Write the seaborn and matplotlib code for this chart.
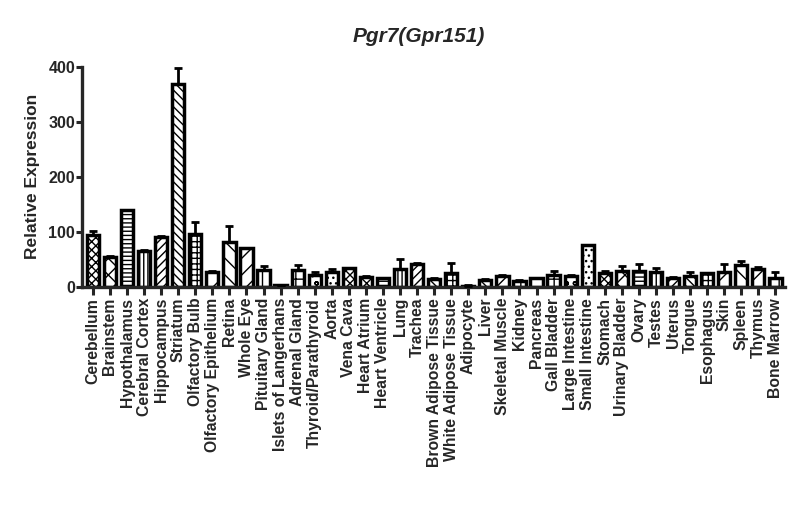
import numpy as np
import seaborn as sns
import matplotlib.pyplot as plt

tissues = ["Cerebellum", "Brainstem", "Hypothalamus", "Cerebral Cortex", "Hippocampus",
           "Striatum", "Olfactory Bulb", "Olfactory Epithelium", "Retina", "Whole Eye",
           "Pituitary Gland", "Islets of Langerhans", "Adrenal Gland", "Thyroid/Parathyroid",
           "Aorta", "Vena Cava", "Heart Atrium", "Heart Ventricle", "Lung", "Trachea",
           "Brown Adipose Tissue", "White Adipose Tissue", "Adipocyte", "Liver",
           "Skeletal Muscle", "Kidney", "Pancreas", "Gall Bladder", "Large Intestine",
           "Small Intestine", "Stomach", "Urinary Bladder", "Ovary", "Testes", "Uterus",
           "Tongue", "Esophagus", "Skin", "Spleen", "Thymus", "Bone Marrow"]

expression = [94, 54, 139, 65.5, 90, 368, 95, 27.5, 81.5, 70,
              30, 3.7, 30, 21, 26, 34, 18, 15, 32, 41,
              14.7, 24.5, 2, 13, 19, 11, 15, 21.5, 19, 75,
              24.5, 28, 29, 26, 16.5, 19.6, 24.5, 26, 39, 33, 15]

sem = [7, 2, 1, 1.5, 2, 30, 22.5, 1, 29.5, 0.5,
       7, 0.3, 9, 5, 7, 0.8, 2, 0.5, 18, 1.5,
       2, 19, 0.2, 1, 2, 0.8, 0.5, 7.5, 2, 0.5,
       4.5, 9, 12, 7.5, 0.6, 6.5, 1.2, 16, 8, 2, 11]

# prism-like fill patterns, cycling every 15 bars
patterns = ['xxxx', 'xx', '----', '||||', '////', '\\\\\\\\', '+++', '/',
            '\\\\', '//', '||', '--', '++', 'oo', '...']

sns.set_style("ticks")
plt.rcParams['font.family'] = ['Liberation Sans', 'DejaVu Sans']
plt.rcParams['font.weight'] = 'bold'
plt.rcParams['hatch.linewidth'] = 1.0

fig = plt.figure(figsize=(8, 5.28), dpi=100)
ax = fig.add_axes([0.1025, 0.457, 0.8785, 0.4167])

sns.barplot(x=tissues, y=expression, color='white', saturation=1, edgecolor='black',
            linewidth=2.5, width=0.72, ax=ax, zorder=2)
for i, bar in enumerate(ax.patches):
    bar.set_hatch(patterns[i % len(patterns)])

xpos = np.arange(len(tissues))
ax.errorbar(xpos, expression, yerr=[np.zeros(len(sem)), sem], fmt='none',
            ecolor='black', elinewidth=2, capsize=3, capthick=2, zorder=3)

ax.set_ylim(0, 400)
ax.set_yticks([0, 100, 200, 300, 400])
ax.set_xlim(-0.64, len(tissues) - 1 + 0.55)
ax.set_ylabel("Relative Expression", fontsize=12.5, fontweight='bold', labelpad=6)
ax.tick_params(axis='x', labelrotation=90, labelsize=11.3, length=6, width=2.2, pad=2)
ax.tick_params(axis='y', labelsize=11.5, length=4, width=2.2, pad=1)
for lab in ax.get_xticklabels() + ax.get_yticklabels():
    lab.set_fontweight('bold')
for side in ['left', 'bottom']:
    ax.spines[side].set_linewidth(2.4)
sns.despine(ax=ax)

fig.text(0.524, 0.93, "Pgr7(Gpr151)", ha='center', va='center', fontsize=15,
         fontweight='bold', fontstyle='italic')

plt.savefig("out.png", dpi=100)
plt.close()
